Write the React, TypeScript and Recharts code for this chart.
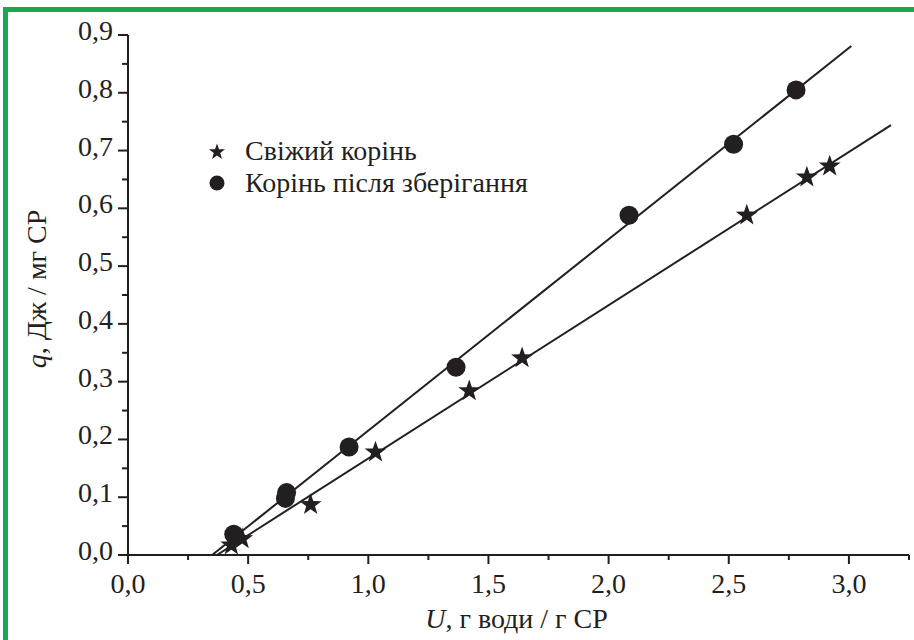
import React from "react";
import { ScatterChart, Scatter, XAxis, YAxis, Legend, Label } from "recharts";

// measured points
const freshX = [0.43, 0.475, 0.76, 1.03, 1.42, 1.64, 2.575, 2.825, 2.92];
const freshY = [0.017, 0.028, 0.087, 0.178, 0.284, 0.341, 0.588, 0.654, 0.673];
const storedX = [0.44, 0.66, 0.655, 0.92, 1.365, 2.085, 2.52, 2.78];
const storedY = [0.036, 0.108, 0.098, 0.187, 0.325, 0.588, 0.711, 0.805];

// fitted straight lines (end points)
const freshFitX = [0.37, 3.175];
const freshFitY = [0, 0.744];
const storedFitX = [0.35, 3.01];
const storedFitY = [0, 0.881];

const xTicks = [0, 0.25, 0.5, 0.75, 1, 1.25, 1.5, 1.75, 2, 2.25, 2.5, 2.75, 3, 3.25];
const yTicks = [0, 0.05, 0.1, 0.15, 0.2, 0.25, 0.3, 0.35, 0.4, 0.45, 0.5, 0.55, 0.6, 0.65, 0.7, 0.75, 0.8, 0.85, 0.9];

const seriesNames = ["Свіжий корінь", "Корінь після зберігання"];

const INK = "#231f20";
const FONT = "Liberation Serif, DejaVu Serif, serif";
const txt = { fontFamily: FONT };

const zip = (xs: number[], ys: number[]) => xs.map((x, i) => ({ x, y: ys[i] }));

const fmt = (v: number) => v.toFixed(1).replace(".", ",");

const isStep = (v: number, step: number) => Math.abs(v / step - Math.round(v / step)) < 1e-6;

const starPath = (cx: number, cy: number, R: number) => {
  const r = R * 0.4;
  let d = "";
  for (let i = 0; i < 10; i++) {
    const rad = i % 2 === 0 ? R : r;
    const a = -Math.PI / 2 + (i * Math.PI) / 5;
    d += (i === 0 ? "M" : "L") + (cx + rad * Math.cos(a)).toFixed(2) + "," + (cy + rad * Math.sin(a)).toFixed(2);
  }
  return d + "Z";
};

const StarShape = (props: any) => <path d={starPath(props.cx, props.cy, 11.5)} fill={INK} />;
const DotShape = (props: any) => <circle cx={props.cx} cy={props.cy} r={9.5} fill={INK} />;
const NoShape = () => <g />;

const XTick = (props: any) => {
  const { x, y, payload } = props;
  const major = isStep(payload.value, 0.5);
  return (
    <g>
      <line x1={x} x2={x} y1={y} y2={y + (major ? 9 : 5)} stroke={INK} strokeWidth={2} />
      {major && (
        <text x={x} y={y + 38} textAnchor="middle" style={txt} fontSize={28} fill={INK}>
          {fmt(payload.value)}
        </text>
      )}
    </g>
  );
};

const YTick = (props: any) => {
  const { x, y, payload } = props;
  const major = isStep(payload.value, 0.1);
  return (
    <g>
      <line x1={x - (major ? 10 : 6)} x2={x} y1={y} y2={y} stroke={INK} strokeWidth={2} />
      {major && (
        <text x={x - 15} y={y + 5} textAnchor="end" style={txt} fontSize={28} fill={INK}>
          {fmt(payload.value)}
        </text>
      )}
    </g>
  );
};

const XTitle = (props: any) => {
  const vb = props.viewBox;
  return (
    <text x={vb.x + vb.width / 2 - 2} y={vb.y + 73} textAnchor="middle" style={txt} fontSize={28} fill={INK}>
      <tspan fontStyle="italic">U</tspan>, г води / г СР
    </text>
  );
};

const YTitle = (props: any) => {
  const vb = props.viewBox;
  const cx = vb.x - 32;
  const cy = vb.y + vb.height / 2 - 6;
  return (
    <text
      x={cx}
      y={cy}
      textAnchor="middle"
      dominantBaseline="central"
      transform={`rotate(-90, ${cx}, ${cy})`}
      style={txt}
      fontSize={28}
      fill={INK}
    >
      <tspan fontStyle="italic">q</tspan>, Дж / мг СР
    </text>
  );
};

// legend drawn as its own small svg, top-left corner at (190, 128) in page pixels
const LegendBox = () => (
  <svg width={420} height={90} style={{ overflow: "visible", display: "block" }}>
    <path d={starPath(27, 24, 8.5)} fill={INK} />
    <text x={55} y={32} style={txt} fontSize={28} fill={INK}>
      {seriesNames[0]}
    </text>
    <circle cx={27} cy={55} r={7.5} fill={INK} />
    <text x={55} y={64} style={txt} fontSize={28} fill={INK}>
      {seriesNames[1]}
    </text>
  </svg>
);

export default function App() {
  return (
    <div style={{ position: "absolute", left: 0, top: 0, width: 914, height: 640, overflow: "hidden", background: "#fff" }}>
      <div
        style={{
          position: "absolute",
          left: 3,
          top: 7,
          width: 980,
          height: 720,
          border: "5px solid #19a84f",
          boxSizing: "border-box",
        }}
      />
      <div style={{ position: "absolute", left: 0, top: 0 }}>
        <ScatterChart width={914} height={640} margin={{ top: 35, right: 5, bottom: 25, left: 68 }}>
          <XAxis
            type="number"
            dataKey="x"
            domain={[0, 3.25]}
            ticks={xTicks}
            interval={0}
            allowDataOverflow
            height={60}
            tickSize={0}
            tickMargin={0}
            tickLine={false}
            tick={<XTick />}
            axisLine={{ stroke: INK, strokeWidth: 2 }}
          >
            <Label content={<XTitle />} />
          </XAxis>
          <YAxis
            type="number"
            dataKey="y"
            domain={[0, 0.9]}
            ticks={yTicks}
            interval={0}
            allowDataOverflow
            width={60}
            tickSize={0}
            tickMargin={0}
            tickLine={false}
            tick={<YTick />}
            axisLine={{ stroke: INK, strokeWidth: 2 }}
          >
            <Label content={<YTitle />} />
          </YAxis>
          <Legend
            layout="vertical"
            align="center"
            verticalAlign="middle"
            content={<LegendBox />}
            wrapperStyle={{ position: "absolute", left: 190, top: 128, width: 420, height: 90 }}
          />
          <Scatter
            name="fit-stored"
            data={zip(storedFitX, storedFitY)}
            line={{ stroke: INK, strokeWidth: 2 }}
            shape={<NoShape />}
            legendType="none"
            isAnimationActive={false}
          />
          <Scatter
            name="fit-fresh"
            data={zip(freshFitX, freshFitY)}
            line={{ stroke: INK, strokeWidth: 2 }}
            shape={<NoShape />}
            legendType="none"
            isAnimationActive={false}
          />
          <Scatter name={seriesNames[0]} data={zip(freshX, freshY)} shape={<StarShape />} isAnimationActive={false} />
          <Scatter name={seriesNames[1]} data={zip(storedX, storedY)} shape={<DotShape />} isAnimationActive={false} />
        </ScatterChart>
      </div>
    </div>
  );
}
